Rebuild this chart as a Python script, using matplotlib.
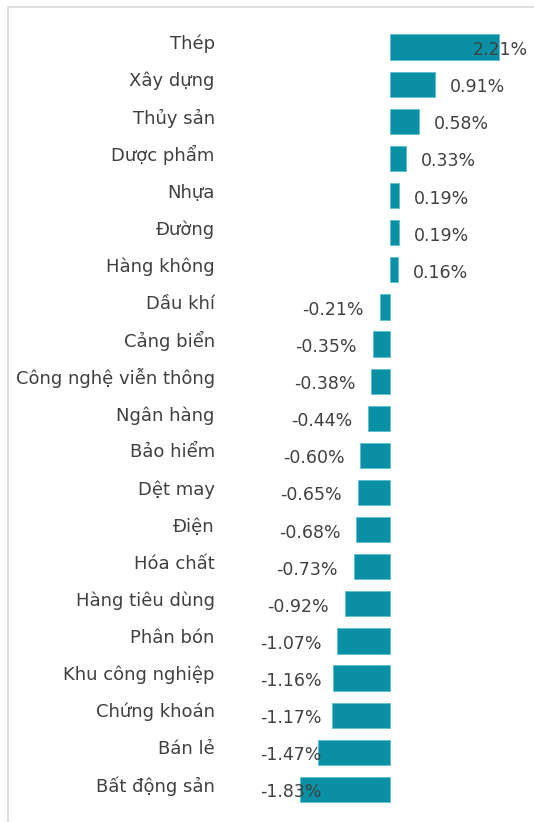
import matplotlib.pyplot as plt
from matplotlib.patches import Rectangle
from matplotlib.transforms import ScaledTranslation

# Sector performance (%)
sectors = ['Thép', 'Xây dựng', 'Thủy sản', 'Dược phẩm', 'Nhựa', 'Đường', 'Hàng không',
           'Dầu khí', 'Cảng biển', 'Công nghệ viễn thông', 'Ngân hàng', 'Bảo hiểm',
           'Dệt may', 'Điện', 'Hóa chất', 'Hàng tiêu dùng', 'Phân bón',
           'Khu công nghiệp', 'Chứng khoán', 'Bán lẻ', 'Bất động sản']
changes = [2.21, 0.91, 0.58, 0.33, 0.19, 0.19, 0.16,
           -0.21, -0.35, -0.38, -0.44, -0.60,
           -0.65, -0.68, -0.73, -0.92, -1.07,
           -1.16, -1.17, -1.47, -1.83]

bar_color = '#0a90a4'
text_color = '#404040'
W, H, DPI = 534, 822, 100

fig = plt.figure(figsize=(W / DPI, H / DPI), dpi=DPI)
fig.patch.set_facecolor('white')

# chart border (only left/top visible in the crop)
fig.patches.append(Rectangle((8 / W, -0.05), 1.2, 1.05 - 7 / H, transform=fig.transFigure,
                             fill=False, edgecolor='#d9d9d9', linewidth=1.2))

ax = fig.add_axes([230 / W, 0, 1 - 230 / W, 1])
px_per_unit = 49.3
ax.set_xlim(-(390 - 230) / px_per_unit, (W - 390) / px_per_unit)
row = 37.1
ax.set_ylim(20 + (H - 789.5) / row, -47 / row)

y = list(range(len(sectors)))
ax.barh(y, changes, height=0.68, color=bar_color, edgecolor='#5cbfcf', linewidth=0.6)

ax.set_yticks(y)
ax.set_yticklabels(sectors, fontsize=13, color=text_color)
ax.tick_params(axis='y', length=0, pad=11)
# category names sit a little above the bar centre
shift = ScaledTranslation(0, 5 / DPI, fig.dpi_scale_trans)
for lbl in ax.get_yticklabels():
    lbl.set_transform(lbl.get_transform() + shift)
ax.set_xticks([])
for s in ax.spines.values():
    s.set_visible(False)
ax.patch.set_alpha(0)

labels = []
for yi, v in zip(y, changes):
    off = 15 if v >= 0 else -16
    t = ax.annotate(f'{v:.2f}%', xy=(v, yi), xytext=(off, -3), textcoords='offset pixels',
                    ha='left' if v >= 0 else 'right', va='center',
                    fontsize=12.5, color=text_color, annotation_clip=False)
    labels.append(t)

# keep labels inside the plot area, like the spreadsheet does
fig.canvas.draw()
r = fig.canvas.get_renderer()
for t, v in zip(labels, changes):
    bb = t.get_window_extent(r)
    ox, oy = t.xyann
    if v >= 0 and bb.x1 > W - 6:
        t.xyann = (ox - (bb.x1 - (W - 6)), oy)
    if v < 0 and bb.x0 < 260:
        t.xyann = (ox + (260 - bb.x0), oy)

fig.savefig('out.png', dpi=DPI, facecolor='white')
